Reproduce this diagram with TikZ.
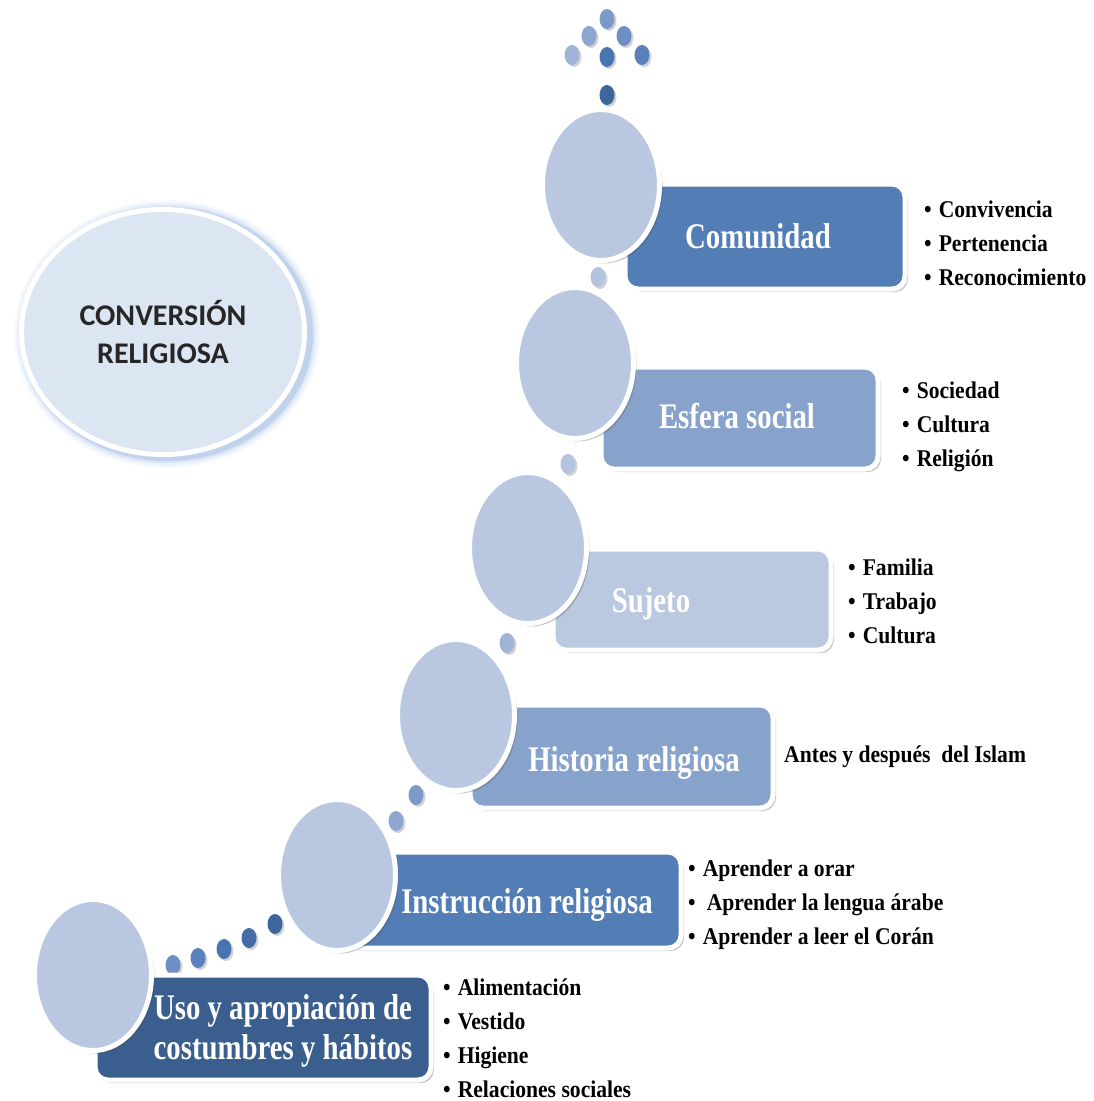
\documentclass[tikz,border=0pt]{standalone}
\usepackage{fontspec}
\setmainfont{Liberation Serif}
\newfontfamily\stagefont[FakeStretch=0.8]{Liberation Serif}
\newfontfamily\listfont[FakeStretch=0.9]{Liberation Serif}
\newfontfamily\titlefont{Carlito}
\usetikzlibrary{shapes.geometric, shadows}
\definecolor{stagedark}{HTML}{3A5F8F}
\definecolor{stagemid}{HTML}{527DB5}
\definecolor{stagesoft}{HTML}{87A2CB}
\definecolor{stagepale}{HTML}{BAC8E0}
\definecolor{ovalfill}{HTML}{B9C8E0}
\definecolor{titlefill}{HTML}{DCE6F2}
\definecolor{titleglow}{HTML}{7FA3D8}
\definecolor{dotA}{HTML}{3E659C}
\definecolor{dotB}{HTML}{4A74B0}
\definecolor{dotC}{HTML}{5A80BD}
\definecolor{dotD}{HTML}{6F8FC4}
\definecolor{dotE}{HTML}{7C9AC9}
\definecolor{dotF}{HTML}{8DA6CF}
\definecolor{dotG}{HTML}{A0B4D7}
\definecolor{dotH}{HTML}{B5C4DE}
\newcommand\itm{\textbullet\hspace{7pt}}

\begin{document}
\begin{tikzpicture}[
    x=1pt, y=-1pt,
    % ── shared styles ──
    soft shadow/.style={drop shadow={shadow xshift=3pt, shadow yshift=-3pt,
        opacity=0.3, fill=black!70}},
    stage box/.style={draw=white, line width=5pt, rounded corners=13pt,
        fill=#1, soft shadow, inner sep=0pt},
    stage oval/.style={ellipse, draw=white, line width=5pt, fill=ovalfill,
        minimum width=117, minimum height=151, inner sep=0pt, soft shadow},
    stage label/.style={font={\stagefont\bfseries\fontsize{36}{40}\selectfont},
        text=white, inner sep=0pt, text height=24pt, text depth=0pt},
    item list/.style={font={\listfont\bfseries\fontsize{24}{34}\selectfont},
        align=left, anchor=west, inner sep=0pt},
    path dot/.style={ellipse, fill=#1, minimum width=15, minimum height=20,
        inner sep=0pt, drop shadow={shadow xshift=2pt, shadow yshift=-2pt,
        opacity=0.25, fill=black!70}},
    title oval/.style={ellipse, draw=white, line width=5pt, fill=titlefill,
        minimum width=283, minimum height=245, inner sep=0pt, align=center,
        font={\titlefont\bfseries\fontsize{30}{38}\selectfont}, text=black!85},
]
\useasboundingbox (0,0) rectangle (1094,1101);

% ══════════════════════════════════════════════════════════════════════
%  TITLE
% ══════════════════════════════════════════════════════════════════════
\foreach \g/\o in {22/0.06, 17/0.1, 12/0.16, 8/0.28}
  \draw[titleglow, opacity=\o, line width=\g pt] (167,334) ellipse (142 and 123);
\node[title oval] (title) at (163,332) {CONVERSIÓN\\RELIGIOSA};

% ══════════════════════════════════════════════════════════════════════
%  DOTS
% ══════════════════════════════════════════════════════════════════════
\foreach \n/\px/\py/\col in {
    1/607/19/dotE, 2/589/36/dotF, 3/624/36/dotD, 4/572/55/dotG,
    5/607/57/dotB, 6/642/55/dotC, 7/607/95/dotA,
    8/598/277/dotH, 9/568/464/dotH, 10/507/643/dotG,
    11/416/795/dotE, 12/396/821/dotF,
    13/275/924/dotA, 14/249/938/dotA!50!dotB, 15/224/949/dotB,
    16/198/958/dotC, 17/173/965/dotD}
  \node[path dot=\col] (dot\n) at (\px,\py) {};

% ══════════════════════════════════════════════════════════════════════
%  STAGES (box, then oval on top)
% ══════════════════════════════════════════════════════════════════════
\node[stage box=stagemid,  minimum width=280, minimum height=105] (box1) at (765,236.5) {};
\node[stage box=stagesoft, minimum width=277, minimum height=102] (box2) at (739.5,418) {};
\node[stage box=stagepale, minimum width=278, minimum height=101] (box3) at (692,599.5) {};
\node[stage box=stagesoft, minimum width=303, minimum height=103] (box4) at (621.5,756.5) {};
\node[stage box=stagemid,  minimum width=336, minimum height=96]  (box5) at (513,900) {};
\node[stage box=stagedark, minimum width=336, minimum height=105] (box6) at (263,1027.5) {};

\node[stage oval] (oval1) at (601,185) {};
\node[stage oval] (oval2) at (575,363) {};
\node[stage oval] (oval3) at (528,548) {};
\node[stage oval] (oval4) at (456,715) {};
\node[stage oval] (oval5) at (337,875) {};
\node[stage oval] (oval6) at (93,975) {};

\node[stage label] (lab1) at (758,236) {Comunidad};
\node[stage label] (lab2) at (737,416) {Esfera social};
\node[stage label] (lab3) at (651,600) {Sujeto};
\node[stage label] (lab4) at (634,759) {Historia religiosa};
\node[stage label] (lab5) at (527,901) {Instrucción religiosa};
\node[stage label, align=center, text height=, text depth=] (lab6) at (283,1031)
    {Uso y apropiación de\\costumbres y hábitos};

% ══════════════════════════════════════════════════════════════════════
%  LISTS
% ══════════════════════════════════════════════════════════════════════
\node[item list] (list1) at (924,243) {\itm Convivencia\\\itm Pertenencia\\\itm Reconocimiento};
\node[item list] (list2) at (902,427) {\itm Sociedad\\\itm Cultura\\\itm Religión};
\node[item list] (list3) at (848,601) {\itm Familia\\\itm Trabajo\\\itm Cultura};
\node[item list] (list4) at (784,757) {Antes y después \ del Islam};
\node[item list] (list5) at (688,905)
    {\itm Aprender a orar\\\textbullet\hspace{11pt}Aprender la lengua árabe\\\itm Aprender a leer el Corán};
\node[item list] (list6) at (443,1038)
    {\itm Alimentación\\\itm Vestido\\\itm Higiene\\\itm Relaciones sociales};

\end{tikzpicture}
\end{document}
